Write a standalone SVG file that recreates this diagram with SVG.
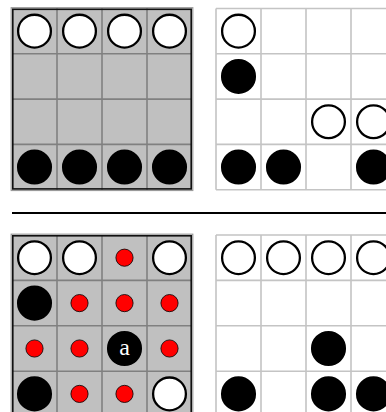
<svg xmlns="http://www.w3.org/2000/svg" width="386" height="412" viewBox="0 0 386 412">
<defs>
<style>
.gb{fill:#c0c0c0;stroke:none}
.gl{stroke:#808080;stroke-width:1.6;fill:none}
.go{stroke:#9a9a9a;stroke-width:1.2;fill:none}
.gk{stroke:#111;stroke-width:1.6;fill:none}
.wl{stroke:#c4c4c4;stroke-width:1.6;fill:none}
.w{fill:#fff;stroke:#000;stroke-width:2.3}
.b{fill:#000;stroke:#000;stroke-width:2.3}
.r{fill:#f00;stroke:#000;stroke-width:0.8}
.t{fill:#fff;font-family:"Liberation Serif","DejaVu Serif",serif;font-size:24px}
</style>
</defs>
<g id="board-top-left">
<rect class="gb" x="12" y="8.5" width="180" height="181.2"/>
<path class="gl" d="M57 8.5V189.7M102 8.5V189.7M147 8.5V189.7M12 53.8H192M12 99.1H192M12 144.4H192"/>
<rect class="go" x="11.2" y="7.7" width="181.6" height="182.8"/>
<rect class="gk" x="12.8" y="9.3" width="178.4" height="179.6"/>
<circle class="w" cx="34.5" cy="31.15" r="16.4"/>
<circle class="w" cx="79.5" cy="31.15" r="16.4"/>
<circle class="w" cx="124.5" cy="31.15" r="16.4"/>
<circle class="w" cx="169.5" cy="31.15" r="16.4"/>
<circle class="b" cx="34.5" cy="167.05" r="16.4"/>
<circle class="b" cx="79.5" cy="167.05" r="16.4"/>
<circle class="b" cx="124.5" cy="167.05" r="16.4"/>
<circle class="b" cx="169.5" cy="167.05" r="16.4"/>
</g>
<g id="board-top-right">
<rect x="216" y="8.5" width="180" height="181.2" fill="#fff"/>
<path class="wl" d="M216 8.5V189.7M261 8.5V189.7M306 8.5V189.7M351 8.5V189.7M216 8.5H386M216 53.8H386M216 99.1H386M216 144.4H386M216 189.7H386"/>
<circle class="w" cx="238.5" cy="31.15" r="16.4"/>
<circle class="b" cx="238.5" cy="76.45" r="16.4"/>
<circle class="w" cx="328.5" cy="121.75" r="16.4"/>
<circle class="w" cx="373.5" cy="121.75" r="16.4"/>
<circle class="b" cx="238.5" cy="167.05" r="16.4"/>
<circle class="b" cx="283.5" cy="167.05" r="16.4"/>
<circle class="b" cx="373.5" cy="167.05" r="16.4"/>
</g>
<g id="separator">
<line x1="12" y1="213" x2="386" y2="213" stroke="#000" stroke-width="1.8"/>
</g>
<g id="board-bottom-left">
<rect class="gb" x="12" y="235" width="180" height="181.6"/>
<path class="gl" d="M57 235V416.6M102 235V416.6M147 235V416.6M12 280.4H192M12 325.8H192M12 371.2H192"/>
<rect class="go" x="11.2" y="234.2" width="181.6" height="183.2"/>
<rect class="gk" x="12.8" y="235.8" width="178.4" height="180"/>
<circle class="w" cx="34.5" cy="257.7" r="16.4"/>
<circle class="w" cx="79.5" cy="257.7" r="16.4"/>
<circle class="r" cx="124.5" cy="257.7" r="8.6"/>
<circle class="w" cx="169.5" cy="257.7" r="16.4"/>
<circle class="b" cx="34.5" cy="303.1" r="16.4"/>
<circle class="r" cx="79.5" cy="303.1" r="8.6"/>
<circle class="r" cx="124.5" cy="303.1" r="8.6"/>
<circle class="r" cx="169.5" cy="303.1" r="8.6"/>
<circle class="r" cx="34.5" cy="348.5" r="8.6"/>
<circle class="r" cx="79.5" cy="348.5" r="8.6"/>
<circle class="b" cx="124.5" cy="348.5" r="16.4"/>
<text class="t" x="124.5" y="355" text-anchor="middle">a</text>
<circle class="r" cx="169.5" cy="348.5" r="8.6"/>
<circle class="b" cx="34.5" cy="393.9" r="16.4"/>
<circle class="r" cx="79.5" cy="393.9" r="8.6"/>
<circle class="r" cx="124.5" cy="393.9" r="8.6"/>
<circle class="w" cx="169.5" cy="393.9" r="16.4"/>
</g>
<g id="board-bottom-right">
<rect x="216" y="235" width="180" height="181.6" fill="#fff"/>
<path class="wl" d="M216 235V416.6M261 235V416.6M306 235V416.6M351 235V416.6M216 235H386M216 280.4H386M216 325.8H386M216 371.2H386"/>
<circle class="w" cx="238.5" cy="257.7" r="16.4"/>
<circle class="w" cx="283.5" cy="257.7" r="16.4"/>
<circle class="w" cx="328.5" cy="257.7" r="16.4"/>
<circle class="w" cx="373.5" cy="257.7" r="16.4"/>
<circle class="b" cx="328.5" cy="348.5" r="16.4"/>
<circle class="b" cx="238.5" cy="393.9" r="16.4"/>
<circle class="b" cx="328.5" cy="393.9" r="16.4"/>
<circle class="b" cx="373.5" cy="393.9" r="16.4"/>
</g>
</svg>
